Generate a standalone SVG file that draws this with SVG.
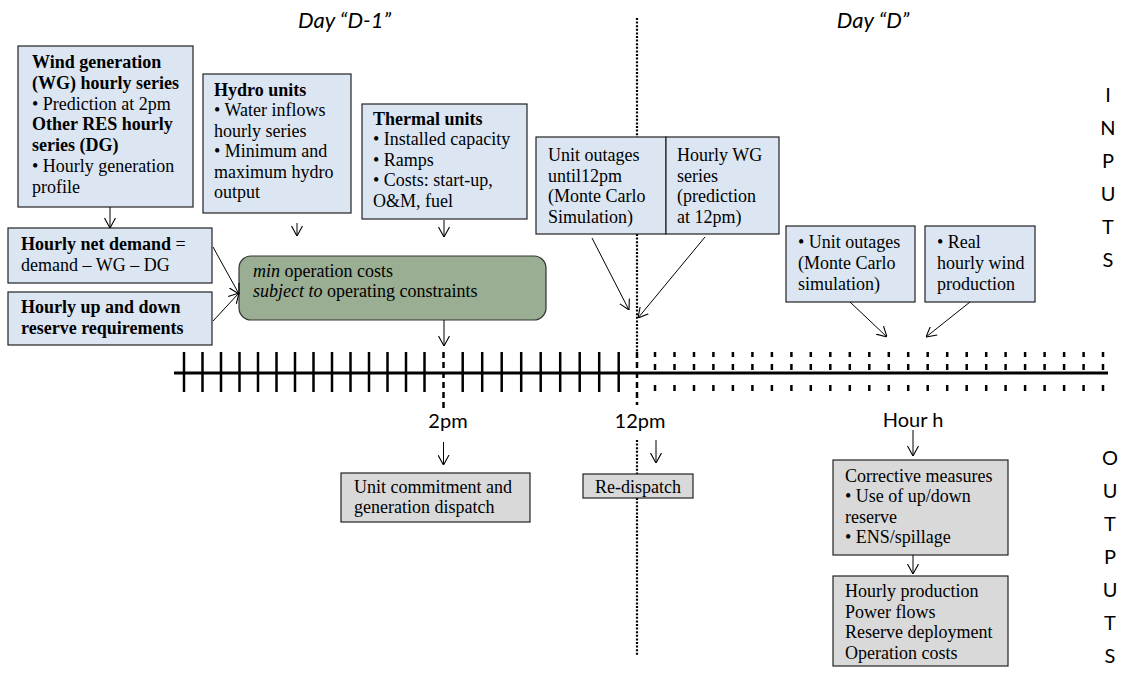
<svg xmlns="http://www.w3.org/2000/svg" width="1126" height="673" viewBox="0 0 1126 673">
<defs>
<marker id="ah" viewBox="0 0 10 12" refX="10" refY="6" markerWidth="10" markerHeight="12" markerUnits="userSpaceOnUse" orient="auto">
<path d="M0,0.5 L10,6 L0,11.5" fill="none" stroke="#000" stroke-width="1.1"/>
</marker>
<style>
.t{font-family:"Liberation Serif","Times New Roman",serif;font-size:18px;fill:#000}
.b{font-weight:bold}
.s{font-family:Lato,"Open Sans","Liberation Sans",sans-serif;font-size:20px;fill:#000}
.h{font-family:Lato,"Open Sans","Liberation Sans",sans-serif;font-size:22px;font-style:italic;fill:#000}
.blue{fill:#dce6f2;stroke:#222;stroke-width:1.2}
.gray{fill:#d9d9d9;stroke:#222;stroke-width:1.2}
.arr{stroke:#000;stroke-width:1;fill:none;marker-end:url(#ah)}
.tick{stroke:#000;stroke-width:2.5}
.dtick{stroke:#000;stroke-width:2.5;stroke-dasharray:5 7 6 15 6 10}
.dot{stroke:#000;stroke-width:2.2;stroke-dasharray:2 1.6;fill:none}
.dash{stroke:#000;stroke-width:2.5;stroke-dasharray:6 4;fill:none}
</style>
</defs>

<g id="headers">
<text class="h" x="298" y="28">Day “D-1”</text>
<text class="h" x="873" y="28" text-anchor="middle">Day “D”</text>
<text class="s" x="1108" y="102" text-anchor="middle">I</text>
<text class="s" x="1108" y="135" text-anchor="middle">N</text>
<text class="s" x="1108" y="168" text-anchor="middle">P</text>
<text class="s" x="1108" y="201" text-anchor="middle">U</text>
<text class="s" x="1108" y="234" text-anchor="middle">T</text>
<text class="s" x="1108" y="267" text-anchor="middle">S</text>
<text class="s" x="1110" y="465" text-anchor="middle">O</text>
<text class="s" x="1110" y="498" text-anchor="middle">U</text>
<text class="s" x="1110" y="531" text-anchor="middle">T</text>
<text class="s" x="1110" y="564" text-anchor="middle">P</text>
<text class="s" x="1110" y="597" text-anchor="middle">U</text>
<text class="s" x="1110" y="630" text-anchor="middle">T</text>
<text class="s" x="1110" y="663" text-anchor="middle">S</text>
</g>

<g id="timeline">
<line x1="637" y1="18" x2="637" y2="352" class="dot"/>
<line x1="637" y1="440" x2="637" y2="474" class="dot"/>
<line x1="637" y1="498" x2="637" y2="655" class="dot"/>
<line x1="174" y1="373" x2="1108" y2="373" stroke="#000" stroke-width="3"/>
<g class="tick">
<line x1="184" y1="352" x2="184" y2="392"/><line x1="202.5" y1="352" x2="202.5" y2="392"/><line x1="221" y1="352" x2="221" y2="392"/><line x1="239.5" y1="352" x2="239.5" y2="392"/><line x1="258" y1="352" x2="258" y2="392"/><line x1="276.5" y1="352" x2="276.5" y2="392"/><line x1="295" y1="352" x2="295" y2="392"/><line x1="313.5" y1="352" x2="313.5" y2="392"/><line x1="332" y1="352" x2="332" y2="392"/><line x1="350.5" y1="352" x2="350.5" y2="392"/><line x1="369" y1="352" x2="369" y2="392"/><line x1="387.5" y1="352" x2="387.5" y2="392"/><line x1="406" y1="352" x2="406" y2="392"/><line x1="424.5" y1="352" x2="424.5" y2="392"/>
<line x1="462.7" y1="352" x2="462.7" y2="392"/><line x1="482.2" y1="352" x2="482.2" y2="392"/><line x1="501.7" y1="352" x2="501.7" y2="392"/><line x1="521.2" y1="352" x2="521.2" y2="392"/><line x1="540.7" y1="352" x2="540.7" y2="392"/><line x1="560.2" y1="352" x2="560.2" y2="392"/><line x1="579.7" y1="352" x2="579.7" y2="392"/><line x1="599.2" y1="352" x2="599.2" y2="392"/><line x1="618.7" y1="352" x2="618.7" y2="392"/>
</g>
<line x1="443.5" y1="352" x2="443.5" y2="410" class="dash"/>
<line x1="637" y1="352" x2="637" y2="405" class="dash"/>
<g class="dtick">
<line x1="655" y1="352" x2="655" y2="392"/><line x1="674.5" y1="352" x2="674.5" y2="392"/><line x1="694" y1="352" x2="694" y2="392"/><line x1="713.4" y1="352" x2="713.4" y2="392"/><line x1="732.9" y1="352" x2="732.9" y2="392"/><line x1="752.4" y1="352" x2="752.4" y2="392"/><line x1="771.9" y1="352" x2="771.9" y2="392"/><line x1="791.4" y1="352" x2="791.4" y2="392"/><line x1="810.8" y1="352" x2="810.8" y2="392"/><line x1="830.3" y1="352" x2="830.3" y2="392"/><line x1="849.8" y1="352" x2="849.8" y2="392"/><line x1="869.3" y1="352" x2="869.3" y2="392"/><line x1="888.8" y1="352" x2="888.8" y2="392"/><line x1="908.2" y1="352" x2="908.2" y2="392"/><line x1="927.7" y1="352" x2="927.7" y2="392"/><line x1="947.2" y1="352" x2="947.2" y2="392"/><line x1="966.7" y1="352" x2="966.7" y2="392"/><line x1="986.2" y1="352" x2="986.2" y2="392"/><line x1="1005.6" y1="352" x2="1005.6" y2="392"/><line x1="1025.1" y1="352" x2="1025.1" y2="392"/><line x1="1044.6" y1="352" x2="1044.6" y2="392"/><line x1="1064.1" y1="352" x2="1064.1" y2="392"/><line x1="1083.6" y1="352" x2="1083.6" y2="392"/><line x1="1103" y1="352" x2="1103" y2="392"/>
</g>
<text class="s" x="448" y="428" text-anchor="middle">2pm</text>
<text class="s" x="640" y="428" text-anchor="middle">12pm</text>
<text class="s" x="913" y="427" text-anchor="middle">Hour h</text>
</g>

<g id="wind">
<rect x="18" y="46" width="175" height="161" class="blue"/>
<text class="t"><tspan x="32" y="68" class="b">Wind generation</tspan><tspan x="32" y="88.8" class="b">(WG) hourly series</tspan><tspan x="32" y="109.6">• Prediction at 2pm</tspan><tspan x="32" y="130.4" class="b">Other RES hourly</tspan><tspan x="32" y="151.2" class="b">series (DG)</tspan><tspan x="32" y="172">• Hourly generation</tspan><tspan x="32" y="192.8">profile</tspan></text>
</g>

<g id="hydro">
<rect x="203" y="74" width="148" height="139" class="blue"/>
<text class="t"><tspan x="214" y="96" class="b">Hydro units</tspan><tspan x="214" y="116.4">• Water inflows</tspan><tspan x="214" y="136.8">hourly series</tspan><tspan x="214" y="157.2">• Minimum and</tspan><tspan x="214" y="177.6">maximum hydro</tspan><tspan x="214" y="198">output</tspan></text>
</g>

<g id="thermal">
<rect x="362" y="104" width="165" height="115" class="blue"/>
<text class="t"><tspan x="373" y="124.5" class="b">Thermal units</tspan><tspan x="373" y="145">• Installed capacity</tspan><tspan x="373" y="165.5">• Ramps</tspan><tspan x="373" y="186">• Costs: start-up,</tspan><tspan x="373" y="206.5">O&amp;M, fuel</tspan></text>
</g>

<g id="netdemand">
<rect x="8" y="228" width="204" height="55" class="blue"/>
<text class="t"><tspan x="21" y="250"><tspan class="b">Hourly net demand</tspan> =</tspan><tspan x="21" y="271">demand – WG – DG</tspan></text>
</g>

<g id="reserve">
<rect x="8" y="292" width="204" height="53" class="blue"/>
<text class="t b"><tspan x="21" y="313">Hourly up and down</tspan><tspan x="21" y="334">reserve requirements</tspan></text>
</g>

<g id="optim">
<rect x="239" y="256" width="307" height="64" rx="12" ry="12" fill="#9aae93" stroke="#333" stroke-width="1.2"/>
<text class="t"><tspan x="253" y="277"><tspan font-style="italic">min</tspan> operation costs</tspan><tspan x="253" y="297"><tspan font-style="italic">subject to</tspan> operating constraints</tspan></text>
</g>

<g id="outages12">
<rect x="536" y="137" width="130" height="97" class="blue"/>
<text class="t"><tspan x="548" y="161">Unit outages</tspan><tspan x="548" y="181.5">until12pm</tspan><tspan x="548" y="202">(Monte Carlo</tspan><tspan x="548" y="222.5">Simulation)</tspan></text>
</g>

<g id="wg12">
<rect x="666" y="137" width="113" height="97" class="blue"/>
<text class="t"><tspan x="677" y="161">Hourly WG</tspan><tspan x="677" y="181.5">series</tspan><tspan x="677" y="202">(prediction</tspan><tspan x="677" y="222.5">at 12pm)</tspan></text>
</g>

<g id="outagesD">
<rect x="786" y="226" width="129" height="76" class="blue"/>
<text class="t"><tspan x="798" y="248">• Unit outages</tspan><tspan x="798" y="269">(Monte Carlo</tspan><tspan x="798" y="290">simulation)</tspan></text>
</g>

<g id="windD">
<rect x="925" y="226" width="110" height="76" class="blue"/>
<text class="t"><tspan x="937" y="248">• Real</tspan><tspan x="937" y="269">hourly wind</tspan><tspan x="937" y="290">production</tspan></text>
</g>

<g id="uc">
<rect x="341" y="473" width="189" height="49" class="gray"/>
<text class="t"><tspan x="354" y="493">Unit commitment and</tspan><tspan x="354" y="513">generation dispatch</tspan></text>
</g>

<g id="redispatch">
<rect x="583" y="474" width="110" height="24" class="gray"/>
<text class="t" x="595" y="493">Re-dispatch</text>
</g>

<g id="corrective">
<rect x="833" y="460" width="175" height="95" class="gray"/>
<text class="t"><tspan x="845" y="481.5">Corrective measures</tspan><tspan x="845" y="502">• Use of up/down</tspan><tspan x="845" y="522.5">reserve</tspan><tspan x="845" y="543">• ENS/spillage</tspan></text>
</g>

<g id="results">
<rect x="833" y="576" width="175" height="90" class="gray"/>
<text class="t"><tspan x="845" y="597">Hourly production</tspan><tspan x="845" y="617.5">Power flows</tspan><tspan x="845" y="638">Reserve deployment</tspan><tspan x="845" y="658.5">Operation costs</tspan></text>
</g>

<g id="connectors">
<line x1="110" y1="207" x2="110" y2="228" class="arr"/>
<line x1="297" y1="223" x2="297" y2="236" class="arr"/>
<line x1="444" y1="220" x2="444" y2="237" class="arr"/>
<line x1="213" y1="247" x2="239" y2="294" class="arr"/>
<line x1="213" y1="321" x2="239" y2="293" class="arr"/>
<line x1="444" y1="320" x2="444" y2="346" class="arr"/>
<line x1="592" y1="238" x2="629" y2="310" class="arr"/>
<line x1="705" y1="237" x2="638" y2="318" class="arr"/>
<line x1="850" y1="302" x2="887" y2="337" class="arr"/>
<line x1="970" y1="302" x2="926" y2="337" class="arr"/>
<line x1="443.5" y1="442" x2="443.5" y2="465" class="arr"/>
<line x1="656" y1="440" x2="656" y2="463" class="arr"/>
<line x1="913" y1="430" x2="913" y2="456" class="arr"/>
<line x1="913" y1="555" x2="913" y2="574" class="arr"/>
</g>
</svg>
